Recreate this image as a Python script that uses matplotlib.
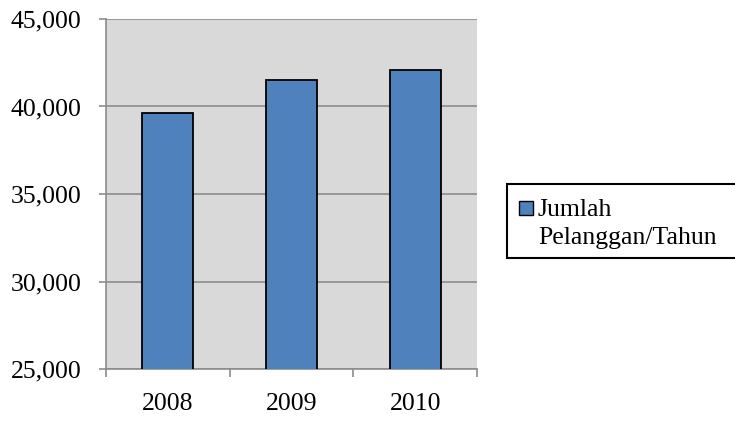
import matplotlib
matplotlib.use("Agg")
import matplotlib.pyplot as plt
from matplotlib.patches import Rectangle
from matplotlib.ticker import FuncFormatter

plt.rcParams['font.family'] = ['Liberation Serif', 'DejaVu Serif']

years = ["2008", "2009", "2010"]
customers = [39630, 41510, 42070]
series_label_lines = ["Jumlah", "Pelanggan/Tahun"]

BAR = "#4F81BD"
GRID = "#8C8C8C"
FS = 18.5

fig = plt.figure(figsize=(7.35, 4.21), dpi=100)
W, H = 735, 421
ax = fig.add_axes([106 / W, 1 - 369 / H, (477 - 106) / W, (369 - 19) / H])
ax.set_facecolor("#D9D9D9")

x = list(range(len(years)))
ax.bar(x, customers, width=0.41, color=BAR, edgecolor="black",
       linewidth=1.3, zorder=3)

ax.set_ylim(25000, 45000)
ax.set_xlim(-0.5, len(years) - 0.5)
ax.set_yticks([25000, 30000, 35000, 40000, 45000])
ax.yaxis.set_major_formatter(FuncFormatter(lambda v, p: f"{int(v):,}"))
ax.grid(axis="y", color=GRID, linewidth=1.2, zorder=1)

ax.set_xticks(x)
ax.set_xticklabels(years)
ax.tick_params(axis="x", length=0, pad=17, labelsize=FS)
ax.set_xticks([-0.5, 0.5, 1.5, 2.5], minor=True)
ax.tick_params(axis="x", which="minor", length=6, width=1.2, color=GRID, direction="out")
ax.tick_params(axis="y", length=5.4, width=1.2, color=GRID, direction="out",
               labelsize=FS, pad=12.5)

for side in ["top", "right"]:
    ax.spines[side].set_visible(False)
for side in ["left", "bottom"]:
    ax.spines[side].set_color(GRID)
    ax.spines[side].set_linewidth(1.2)

# Legend box, placed in pixel coordinates of the figure
def fx(px):
    return px / W

def fy(py):
    return 1 - py / H

frame = Rectangle((fx(507), fy(258)), fx(240), (258 - 184) / H,
                  transform=fig.transFigure, facecolor="white",
                  edgecolor="black", linewidth=1.5, clip_on=False)
fig.patches.append(frame)
swatch = Rectangle((fx(519), fy(215)), fx(14), 14 / H,
                   transform=fig.transFigure, facecolor=BAR,
                   edgecolor="black", linewidth=1.0)
fig.patches.append(swatch)
for i, line in enumerate(series_label_lines):
    fig.text(fx(538), fy(216 + 28 * i), line, fontsize=FS, ha="left",
             va="baseline")

fig.savefig("out.png", dpi=100)
